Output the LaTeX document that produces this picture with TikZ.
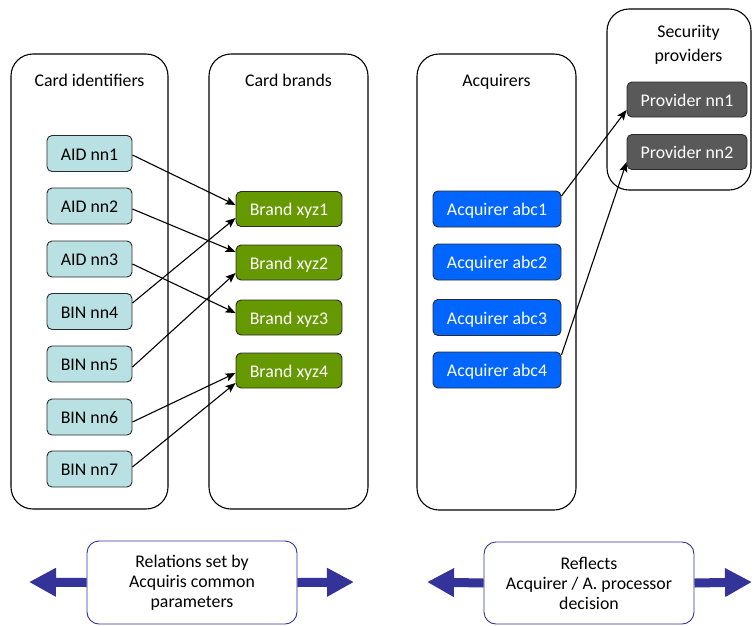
\documentclass[tikz,border=0pt]{standalone}
\usepackage{fontspec}
\setmainfont{Carlito}
\usetikzlibrary{arrows.meta}
\definecolor{aidfill}{HTML}{B9E0E3}
\definecolor{brandfill}{HTML}{669900}
\definecolor{acqfill}{HTML}{0066FF}
\definecolor{provfill}{HTML}{595959}
\definecolor{boxline}{HTML}{2B2B2B}
\definecolor{navy}{HTML}{333399}
\begin{document}
\begin{tikzpicture}[x=1pt,y=-1pt,
  font=\fontsize{17.8}{20}\selectfont,
  container/.style={draw=black, line width=1.1pt, rounded corners=22pt, inner sep=0pt},
  smallbox/.style={draw=boxline, line width=0.9pt, rounded corners=5pt, inner sep=0pt, minimum height=36pt, text height=16pt, text depth=3pt},
  aid/.style={smallbox, fill=aidfill, text=black, minimum width=85pt},
  brand/.style={smallbox, fill=brandfill, text=white, minimum width=106pt, minimum height=35pt},
  acq/.style={smallbox, fill=acqfill, text=white, minimum width=128pt},
  prov/.style={smallbox, fill=provfill, text=white, minimum width=120pt, minimum height=35pt},
  title/.style={anchor=base, inner sep=0pt},
  note/.style={draw=navy, line width=0.9pt, rounded corners=12pt, align=center, inner sep=0pt, minimum width=210pt},
  link/.style={draw=black, line width=1.1pt, -{Stealth[length=10pt,width=8pt,inset=2pt]}},
  fat/.style={draw=navy, line width=9pt, -{Triangle[length=27pt,width=27pt]}}
]
\useasboundingbox (0,0) rectangle (754,625);

% containers
\node[container, minimum width=157pt, minimum height=455pt] (cid) at (89.5,281.5) {};
\node[container, minimum width=159pt, minimum height=455pt] (cbr) at (288.5,281.5) {};
\node[container, minimum width=159pt, minimum height=456pt] (cacq) at (496.5,282) {};
\node[container, minimum width=144pt, minimum height=181pt] (csec) at (679,99.5) {};

\node[title] (tid) at (89.5,86) {Card identifiers};
\node[title] (tbr) at (288.5,86) {Card brands};
\node[title] (tacq) at (496.5,86) {Acquirers};
\node[align=center, inner sep=0pt, font=\fontsize{17.8}{24.5}\selectfont] (tsec) at (688.5,45) {Securiity\\providers};

% card identifiers
\node[aid] (a1) at (89.5,153.5) {AID nn1};
\node[aid] (a2) at (89.5,206) {AID nn2};
\node[aid] (a3) at (89.5,259) {AID nn3};
\node[aid] (b4) at (89.5,311.5) {BIN nn4};
\node[aid] (b5) at (89.5,364) {BIN nn5};
\node[aid] (b6) at (89.5,417) {BIN nn6};
\node[aid] (b7) at (89.5,469) {BIN nn7};

% brands
\node[brand] (x1) at (289,209) {Brand xyz1};
\node[brand] (x2) at (289,262.5) {Brand xyz2};
\node[brand] (x3) at (289,317.5) {Brand xyz3};
\node[brand] (x4) at (289,370.5) {Brand xyz4};

% acquirers
\node[acq] (q1) at (497,209) {Acquirer abc1};
\node[acq] (q2) at (497,262) {Acquirer abc2};
\node[acq] (q3) at (497,317.5) {Acquirer abc3};
\node[acq] (q4) at (497,370) {Acquirer abc4};

% providers
\node[prov] (p1) at (687,99.5) {Provider nn1};
\node[prov] (p2) at (687,152) {Provider nn2};

% links
\draw[link] ([yshift=-1.5pt]a1.east) -- ([yshift=4pt]x1.west);
\draw[link] ([yshift=-3pt]a2.east) -- ([yshift=10.5pt]x2.west);
\draw[link] ([yshift=-5pt]a3.east) -- ([yshift=4.5pt]x3.west);
\draw[link] ([yshift=8.5pt]b4.east) -- ([yshift=-9pt]x1.west);
\draw[link] ([yshift=-3pt]b5.east) -- ([yshift=-10.5pt]x2.west);
\draw[link] ([yshift=-5pt]b6.east) -- ([yshift=-2.5pt]x4.west);
\draw[link] ([yshift=2pt]b7.east) -- ([yshift=-12.5pt]x4.west);

\draw[link] ([yshift=13pt]q1.east) -- ([yshift=-10.5pt]p1.west);
\draw[link] ([yshift=15pt]q4.east) -- ([yshift=-10pt]p2.west);

% bottom notes
\node[note, minimum height=83pt] (n1) at (192,582.5) {Relations set by\\Acquiris common\\parameters};
\node[note, minimum height=82pt] (n2) at (589,583) {Reflects\\Acquirer / A. processor\\decision};

\coordinate (l1) at (29,582);
\coordinate (r1) at (354,582);
\coordinate (l2) at (427,582);
\coordinate (r2) at (752,582);
\draw[fat] (n1.west) -- (l1);
\draw[fat] (n1.east) -- (r1);
\draw[fat] (n2.west) -- (l2);
\draw[fat] (n2.east) -- (r2);
\end{tikzpicture}
\end{document}
